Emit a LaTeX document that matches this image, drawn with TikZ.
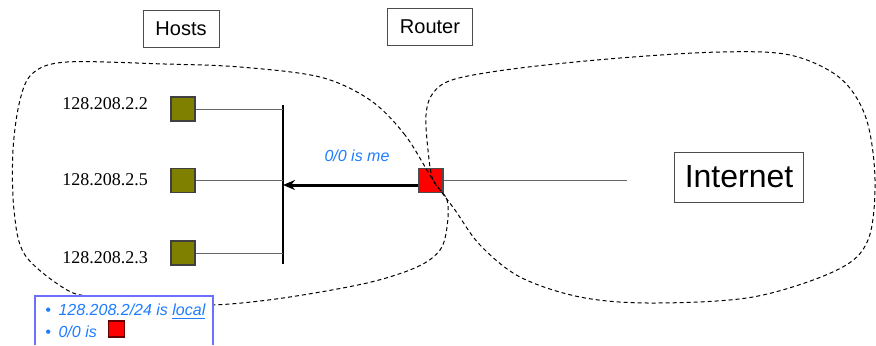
\documentclass[tikz,border=0pt]{standalone}
\usepackage{fontspec}
\setmainfont{Liberation Serif}
\setsansfont{Liberation Sans}
\usetikzlibrary{arrows.meta,positioning}
\definecolor{olivo}{RGB}{128,128,0}
\definecolor{azul}{RGB}{30,125,255}
\definecolor{borde}{RGB}{110,110,255}

\begin{document}
\begin{tikzpicture}[x=0.5pt,y=-0.5pt,
    caja/.style={draw=black!70,line width=0.5pt,font=\sffamily\fontsize{10}{12}\selectfont,inner sep=0pt,minimum height=18.5pt},
    host/.style={draw=black!75,fill=olivo,minimum size=12pt,inner sep=0pt,line width=0.6pt},
    ip/.style={font=\fontsize{9}{11}\selectfont,inner sep=0pt},
    enlace/.style={draw=black!60,line width=0.5pt},
    leyenda/.style={font=\sffamily\itshape\fontsize{8}{10}\selectfont,text=azul,inner sep=0pt}]
    \useasboundingbox (0,0) rectangle (876,345);

    \node[caja,minimum width=38pt] (hosts) at (181,28.5) {Hosts};
    \node[caja,minimum width=42.5pt] (router) at (430,27) {Router};
    \node[caja,minimum width=64.5pt,minimum height=25pt,font=\sffamily\fontsize{16}{18}\selectfont] (internet) at (739,177) {Internet};

    \node[host] (h1) at (183,109) {};
    \node[host] (h2) at (183,180.5) {};
    \node[host] (h3) at (183,253) {};

    \node[ip] (ip1) at (105,104) {128.208.2.2};
    \node[ip] (ip2) at (105,180) {128.208.2.5};
    \node[ip] (ip3) at (105,258) {128.208.2.3};

    \node[host,fill=red,draw=black!70] (rsq) at (431,180.5) {};
    \node[leyenda] (me) at (357,156) {0/0 is me};

    %Bus de la red local
    \coordinate (bustop) at (283,105);
    \coordinate (busbot) at (283,264);
    \coordinate (fin) at (627,177);
    \draw[line width=1pt] (bustop) -- (busbot);
    \draw[enlace] (h1.east) -- (h1.east -| bustop);
    \draw[enlace] (h2.east) -- (h2.east -| bustop);
    \draw[enlace] (h3.east) -- (h3.east -| bustop);
    \draw[enlace] (rsq.east) -- (fin |- rsq.east);
    \draw[line width=1.5pt,-{Stealth[length=6pt,width=5pt]}] ([yshift=-2.25pt]rsq.west) -- ([yshift=-2.25pt]rsq.west -| bustop);

    %Nubes de las dos redes
    \draw[dash pattern=on 2pt off 1.5pt,line width=0.5pt] plot[smooth cycle,tension=0.55] coordinates {
        (433,180) (405,135) (370,100) (320,77) (240,67) (165,64) (67,62) (33,73) (20,100)
        (13,150) (14,210) (25,255) (67,290) (97,297) (150,303) (213,305) (283,298) (367,283)
        (417,267) (440,250) (447,227) (447,200)
        (433,180) (428,150) (426,115) (433,93) (455,79) (520,68) (620,58) (720,52) (790,55)
        (840,78) (866,118) (875,180) (868,240) (837,270) (753,297) (650,303) (580,297)
        (520,277) (480,245) (455,210)};

    %Leyenda
    \fill[white] (35,296) rectangle (213,345);
    \draw[borde,line width=0.7pt] (35,345) -- (35,296) -- (213,296) -- (213,345);
    \node[leyenda,anchor=west] (item1) at (45,312) {\textbullet\hspace{3.8pt}128.208.2/24 is \underline{local}};
    \node[leyenda,anchor=west] (item2) at (45,332) {\textbullet\hspace{3.8pt}0/0 is};
    \node[host,fill=red,draw=black!60!red,minimum size=8pt,right=5.5pt of item2,yshift=1.5pt] (rmini) {};

\end{tikzpicture}
\end{document}
